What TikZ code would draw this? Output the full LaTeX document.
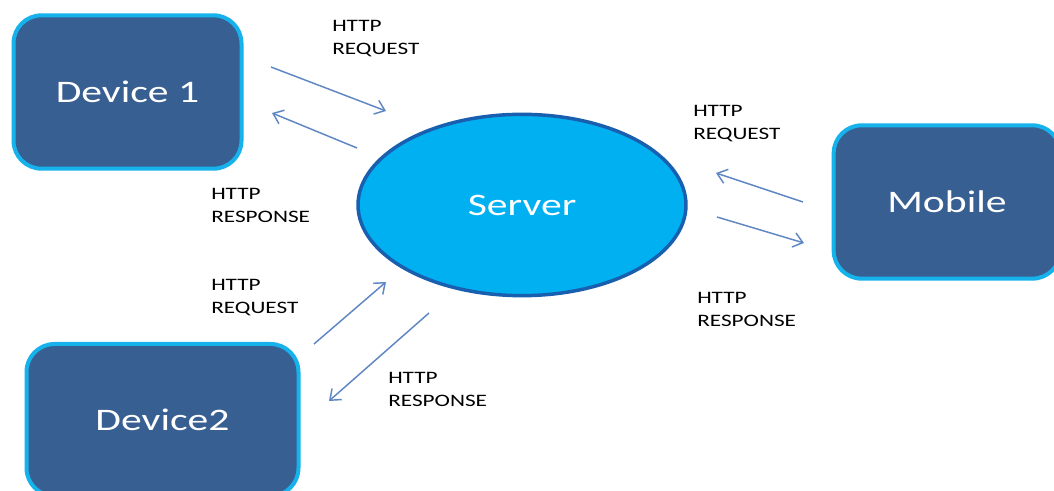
\documentclass[tikz,border=0pt]{standalone}
\usepackage{fontspec}
\setmainfont{Carlito}
\usepackage{graphicx}
\usetikzlibrary{shapes.geometric,arrows.meta}
\definecolor{boxfill}{RGB}{55,95,145}
\definecolor{boxline}{RGB}{22,178,236}
\definecolor{srvfill}{RGB}{0,176,240}
\definecolor{srvline}{RGB}{25,95,175}
\definecolor{arrowc}{RGB}{95,135,195}
\newcommand{\wide}[1]{\scalebox{1.33}[1]{#1}}
\tikzset{
  devbox/.style={draw=boxline, fill=boxfill, line width=3pt, rounded corners=21pt,
    text=white, font=\fontsize{23.5}{28}\selectfont, inner sep=0pt},
  srv/.style={ellipse, draw=srvline, fill=srvfill, line width=2.6pt,
    text=white, font=\fontsize{23.5}{28}\selectfont, inner sep=0pt,
    minimum width=246pt, minimum height=136pt},
  lbl/.style={anchor=west, align=left, inner sep=0pt, font=\fontsize{13.1}{17.25}\selectfont},
  msg/.style={draw=arrowc, line width=1.1pt, -{Straight Barb[length=7pt,width=11pt,line width=1.1pt]}}
}
\begin{document}
\begin{tikzpicture}[x=0.75pt,y=-0.75pt]
\useasboundingbox (0,0) rectangle (1054,491);
\clip (0,0) rectangle (1054,491);
\fill[white] (0,0) rectangle (1054,491);

\node[devbox, minimum width=171pt, minimum height=115pt] (d1) at (127.5,92) {\wide{Device 1}};
\node[devbox, minimum width=204pt, minimum height=114pt] (d2) at (162.5,420) {\wide{Device2}};
\node[devbox, minimum width=170pt, minimum height=115pt] (mob) at (947,202) {\wide{Mobile}};
\node[srv] (srv) at (522,205) {\wide{Server}};

\coordinate (a1s) at (271,67);  \coordinate (a1e) at (386,111);
\coordinate (a2s) at (357,148); \coordinate (a2e) at (272,113);
\coordinate (a3s) at (314,344); \coordinate (a3e) at (386,282);
\coordinate (a4s) at (429,313); \coordinate (a4e) at (329,401);
\coordinate (a5s) at (803,202); \coordinate (a5e) at (716,173);
\coordinate (a6s) at (717,217); \coordinate (a6e) at (804,243);

\draw[msg] (a1s) -- (a1e);
\draw[msg] (a2s) -- (a2e);
\draw[msg] (a3s) -- (a3e);
\draw[msg] (a4s) -- (a4e);
\draw[msg] (a5s) -- (a5e);
\draw[msg] (a6s) -- (a6e);

\node[lbl] (l1) at (332,39) {\wide{HTTP}\\\wide{REQUEST}};
\node[lbl] (l2) at (211,205) {\wide{HTTP}\\\wide{RESPONSE}};
\node[lbl] (l3) at (211,298) {\wide{HTTP}\\\wide{REQUEST}};
\node[lbl] (l4) at (388,389) {\wide{HTTP}\\\wide{RESPONSE}};
\node[lbl] (l5) at (693,124) {\wide{HTTP}\\\wide{REQUEST}};
\node[lbl] (l6) at (697,309) {\wide{HTTP}\\\wide{RESPONSE}};
\end{tikzpicture}
\end{document}
